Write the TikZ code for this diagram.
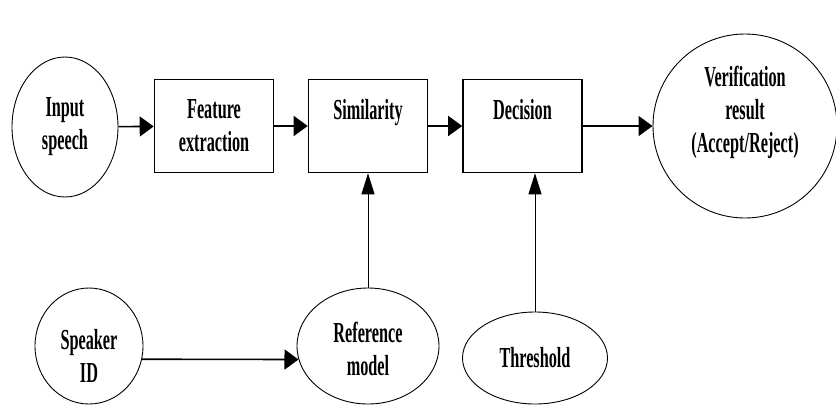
\documentclass[tikz,border=0pt]{standalone}
\usepackage{fontspec}
\newfontfamily\diagfont[FakeStretch=0.56]{Liberation Serif}
\usetikzlibrary{arrows.meta}
\usetikzlibrary{shapes.geometric}

\begin{document}
\begin{tikzpicture}[x=1pt,y=-1pt,
    font=\diagfont\bfseries\fontsize{29}{33}\selectfont,
    block/.style={draw,line width=1.6pt,minimum width=119pt,minimum height=93pt,inner sep=0pt,align=center},
    blob/.style={draw,ellipse,line width=0.9pt,inner sep=0pt,align=center},
    arr/.style={line width=1.6pt,-{Triangle[length=14pt,width=20pt]}},
    uparr/.style={line width=0.9pt,-{Triangle[length=21pt,width=13pt]}}]
    \useasboundingbox (0,0) rectangle (836,405);
    \node[blob,minimum width=106pt,minimum height=140pt] (inp) at (65,127) {Input\\speech};
    \node[block] (feat) at (214,126) {Feature\\extraction};
    \node[block] (sim)  at (368,126) {Similarity\\~};
    \node[block] (dec)  at (522.5,126) {Decision\\~};
    \node[blob,minimum size=184pt] (ver) at (745,126) {Verification\\result\\(Accept/Reject)\\~};
    \node[blob,minimum width=108pt,minimum height=116pt] (spk) at (89,346) {~\\[8pt]Speaker\\ID};
    \node[blob,minimum width=142pt,minimum height=116pt] (ref) at (368,346) {~\\[-6pt]Reference\\model};
    \node[blob,minimum width=145pt,minimum height=92pt]  (thr) at (535,358) {Threshold};
    \draw (inp) edge[arr] (feat);
    \draw (feat) edge[arr] (sim);
    \draw (sim) edge[arr] (dec);
    \draw (dec) edge[arr] (ver);
    \draw (spk.-14) edge[arr] (ref.191);
    \draw (ref) edge[uparr] (sim);
    \draw (thr.north) edge[uparr] (thr.north |- dec.south);
\end{tikzpicture}
\end{document}
